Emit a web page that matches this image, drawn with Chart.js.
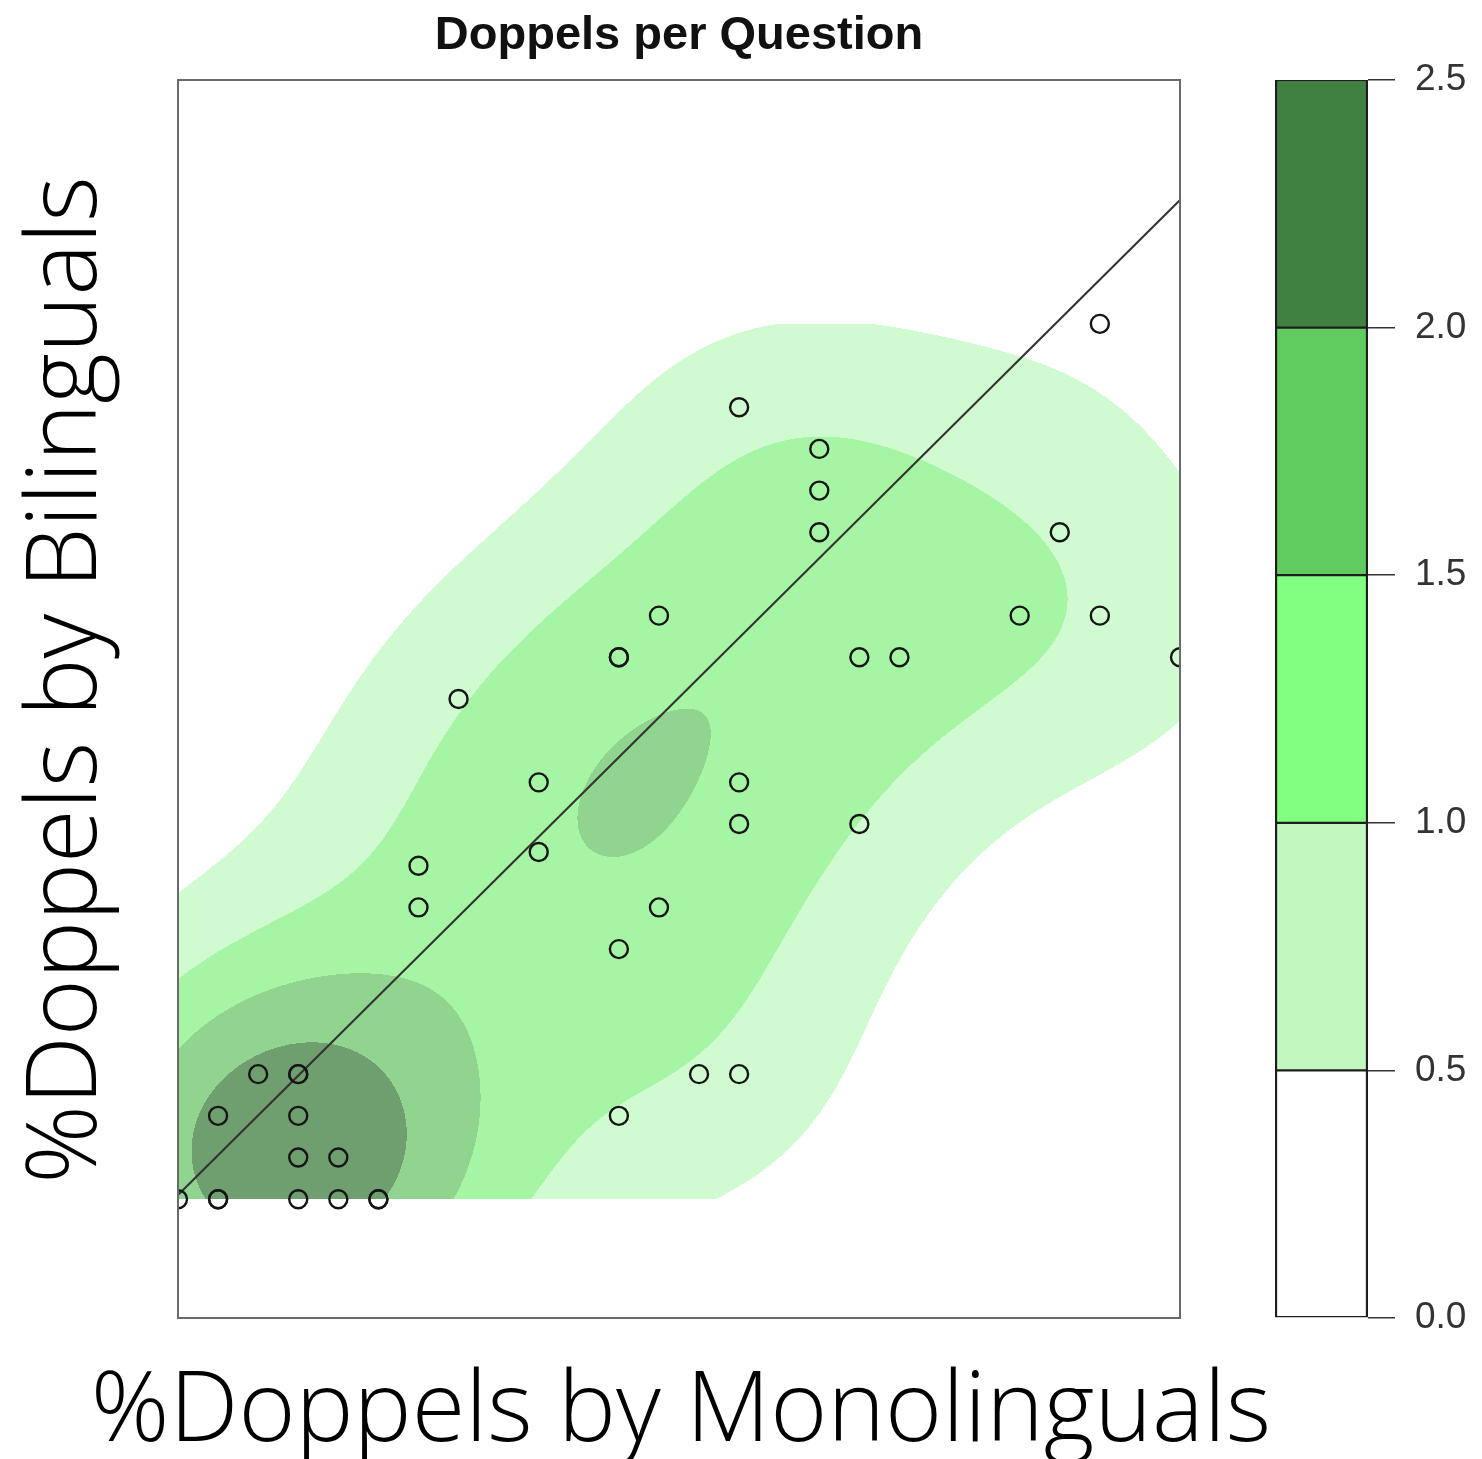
<!DOCTYPE html>
<html>
<head>
<meta charset="utf-8">
<title>Doppels per Question</title>
<script src="https://cdn.jsdelivr.net/npm/chart.js@4.4.1/dist/chart.umd.min.js"></script>
<style>
  html, body { margin: 0; padding: 0; background: #fff; }
  #wrap { position: relative; width: 1482px; height: 1459px; }
  #mainChart { position: absolute; left: 0; top: 0; }
  #barChart { position: absolute; left: 1200px; top: 0; }
</style>
</head>
<body>
<div id="wrap">
  <canvas id="mainChart" width="1482" height="1459"></canvas>
  <canvas id="barChart" width="282" height="1459"></canvas>
</div>
<script>
// Data: one entry per question (duplicates = overlapping circles)
const monoPct = [0, 1, 1, 3, 4, 5, 5, 3, 4, 1, 3, 11, 2, 3, 3, 13, 14, 11, 6, 12, 6, 9,
  14, 17, 9, 14, 7, 11, 11, 17, 18, 25, 12, 21, 23, 16, 22, 16, 16, 14, 23];
const biliPct = [0, 0, 0, 0, 0, 0, 0, 1, 1, 2, 2, 2, 3, 3, 3, 3, 3, 6, 7, 7, 8, 8.33,
  9, 9, 10, 10, 12, 13, 13, 13, 13, 13, 14, 14, 14, 16, 16, 17, 18, 19, 21];

// fitted line (start / end)
const fitX = [0, 25];
const fitY = [0.1, 23.97];

// axis ranges
const xRange = [0, 25];
const yRange = [-2.85, 26.85];

// contour levels + colour key ticks
const levels = [0, 0.5, 1.0, 1.5, 2.0, 2.5];
const levelLabels = ["0.0", "0.5", "1.0", "1.5", "2.0", "2.5"];
const densityUnits = 592; // density -> key units

// texts
const titleText = "Doppels per Question";
const xTitle = "%Doppels by Monolinguals";
const yTitle = "%Doppels by Bilinguals";

// colours
const keyColors = ["#ffffff", "#c0f8c0", "#80ff80", "#60cc60", "#408040"];
const fillColors = [null, "#d0fad0", "#a6f5a4", "#90d490", "#6f9e6f"];

// ---- kde (same idea as MASS::kde2d) ----
function quantile(sorted, p) {
  const h = (sorted.length - 1) * p;
  const lo = Math.floor(h);
  const hi = Math.min(lo + 1, sorted.length - 1);
  return sorted[lo] + (h - lo) * (sorted[hi] - sorted[lo]);
}
function bandwidthNrd(v) {
  const s = [...v].sort((a, b) => a - b);
  const iqr = (quantile(s, 0.75) - quantile(s, 0.25)) / 1.34;
  const mean = v.reduce((a, b) => a + b, 0) / v.length;
  const sd = Math.sqrt(v.reduce((a, b) => a + (b - mean) * (b - mean), 0) / (v.length - 1));
  return 4 * 1.06 * Math.min(sd, iqr) * Math.pow(v.length, -0.2);
}
const hx = bandwidthNrd(monoPct) / 4;
const hy = bandwidthNrd(biliPct) / 4;
const norm = 1 / (monoPct.length * 2 * Math.PI * hx * hy);

function bandOf(d) {
  let k = 0;
  for (let i = 1; i < levels.length - 1; i++) if (d >= levels[i]) k = i;
  return k;
}

// filled contours, evaluated per pixel row inside the data range
const densityPlugin = {
  id: "density",
  beforeDatasetsDraw(chart) {
    const { ctx, scales: { x, y } } = chart;
    const gx0 = Math.min(...monoPct), gx1 = Math.max(...monoPct);
    const gy0 = Math.min(...biliPct), gy1 = Math.max(...biliPct);
    const px0 = Math.round(x.getPixelForValue(gx0));
    const px1 = Math.round(x.getPixelForValue(gx1));
    const py0 = Math.round(y.getPixelForValue(gy1));
    const py1 = Math.round(y.getPixelForValue(gy0));
    const n = monoPct.length;
    const cols = px1 - px0;
    const ex = new Float64Array(cols * n);
    for (let c = 0; c < cols; c++) {
      const vx = x.getValueForPixel(px0 + c + 0.5);
      for (let i = 0; i < n; i++) {
        const u = (vx - monoPct[i]) / hx;
        ex[c * n + i] = Math.exp(-0.5 * u * u);
      }
    }
    const ey = new Float64Array(n);
    ctx.save();
    for (let py = py0; py < py1; py++) {
      const vy = y.getValueForPixel(py + 0.5);
      for (let i = 0; i < n; i++) {
        const u = (vy - biliPct[i]) / hy;
        ey[i] = Math.exp(-0.5 * u * u);
      }
      let runStart = 0, runBand = -1;
      const flush = (end) => {
        if (runBand > 0 && fillColors[runBand]) {
          ctx.fillStyle = fillColors[runBand];
          ctx.fillRect(px0 + runStart, py, end - runStart, 1);
        }
      };
      for (let c = 0; c < cols; c++) {
        let s = 0;
        const off = c * n;
        for (let i = 0; i < n; i++) s += ex[off + i] * ey[i];
        const b = bandOf(s * norm * densityUnits);
        if (b !== runBand) {
          flush(c);
          runStart = c;
          runBand = b;
        }
      }
      flush(cols);
    }
    ctx.restore();
  }
};

// plot box + the two big axis titles (drawn without Chart.js's maxWidth squeeze)
const framePlugin = {
  id: "frame",
  afterDraw(chart) {
    const { ctx, chartArea: a } = chart;
    ctx.save();
    ctx.strokeStyle = "#6a6a6a";
    ctx.lineWidth = 2;
    ctx.strokeRect(a.left, a.top, a.right - a.left, a.bottom - a.top);

    ctx.fillStyle = "#000";
    ctx.font = "300 97.5px 'Open Sans', 'Liberation Sans', sans-serif";
    ctx.textAlign = "center";
    ctx.textBaseline = "alphabetic";
    ctx.fillText(xTitle, (a.left + a.right) / 2 + 2, 1441);

    ctx.translate(96, 680);
    ctx.rotate(-Math.PI / 2);
    ctx.fillText(yTitle, 0, 0);
    ctx.restore();
  }
};

const points = monoPct.map((v, i) => ({ x: v, y: biliPct[i] }));
const fitLine = fitX.map((v, i) => ({ x: v, y: fitY[i] }));

new Chart(document.getElementById("mainChart"), {
  type: "scatter",
  data: {
    datasets: [
      {
        label: "questions",
        data: points,
        pointStyle: "circle",
        pointRadius: 9,
        pointBorderWidth: 2.4,
        pointBorderColor: "#151515",
        pointBackgroundColor: "rgba(0,0,0,0)",
        clip: 0
      },
      {
        label: "fit",
        data: fitLine,
        showLine: true,
        borderColor: "#333333",
        borderWidth: 2,
        pointRadius: 0,
        clip: 0
      }
    ]
  },
  options: {
    responsive: false,
    animation: false,
    layout: { padding: { left: 0, right: 302, top: 0, bottom: 0 } },
    plugins: {
      legend: { display: false },
      tooltip: { enabled: false },
      title: {
        display: true,
        text: titleText,
        fullSize: false,
        color: "#111",
        font: { family: "'Liberation Sans', Arial, sans-serif", size: 47, weight: "bold", lineHeight: 1.2 },
        padding: { top: 8, bottom: 15.6 }
      }
    },
    scales: {
      x: {
        type: "linear",
        min: xRange[0],
        max: xRange[1],
        grid: { display: false },
        border: { display: false },
        ticks: { display: false },
        afterFit: (s) => { s.height = 141; }
      },
      y: {
        type: "linear",
        min: yRange[0],
        max: yRange[1],
        grid: { display: false },
        border: { display: false },
        ticks: { display: false },
        afterFit: (s) => { s.width = 178; }
      }
    }
  },
  plugins: [densityPlugin, framePlugin]
});

// ---- colour key ----
const keyDatasets = keyColors.map((col, i) => ({
  label: levelLabels[i] + "-" + levelLabels[i + 1],
  data: [levels[i + 1] - levels[i]],
  backgroundColor: col,
  borderColor: "#1e1e1e",
  borderWidth: { top: 1.5, bottom: 1.5, left: 2.5, right: 2.5 },
  borderSkipped: false,
  categoryPercentage: 1,
  barPercentage: 1
}));

new Chart(document.getElementById("barChart"), {
  type: "bar",
  data: { labels: [""], datasets: keyDatasets },
  options: {
    responsive: false,
    animation: false,
    layout: { padding: { left: 75, right: 0, top: 80, bottom: 141 } },
    plugins: { legend: { display: false }, tooltip: { enabled: false } },
    scales: {
      x: { stacked: true, display: false },
      y: {
        stacked: true,
        position: "right",
        min: levels[0],
        max: levels[levels.length - 1],
        border: { display: false },
        grid: { drawOnChartArea: false, drawTicks: true, tickLength: 27, color: "#333", lineWidth: 1.5 },
        ticks: {
          stepSize: 0.5,
          padding: 20,
          color: "#333",
          font: { family: "'Liberation Sans', Arial, sans-serif", size: 37 },
          callback: (v) => Number(v).toFixed(1)
        },
        afterFit: (s) => { s.width = 114; }
      }
    }
  }
});
</script>
</body>
</html>
